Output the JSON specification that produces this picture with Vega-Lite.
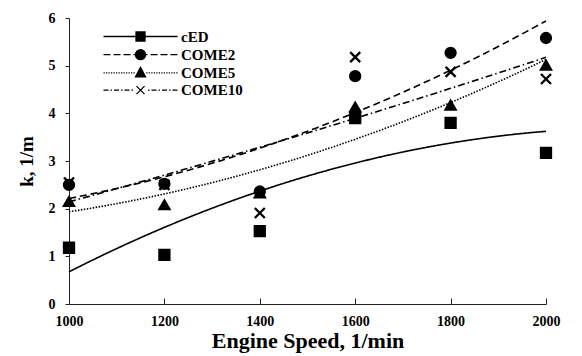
{
  "$schema": "https://vega.github.io/schema/vega-lite/v6.json",
  "width": 477,
  "height": 286,
  "autosize": "none",
  "padding": {"left": 69, "top": 18, "right": 36, "bottom": 52},
  "background": "white",
  "config": {
    "view": {"stroke": null},
    "font": "Liberation Serif",
    "axis": {
      "grid": false,
      "domainColor": "#222",
      "tickColor": "#222",
      "labelFont": "Liberation Serif",
      "labelFontWeight": "bold",
      "labelFontSize": 14,
      "labelColor": "black",
      "titleFont": "Liberation Serif",
      "titleFontWeight": "bold",
      "titleColor": "black"
    },
    "legend": {
      "labelFont": "Liberation Serif",
      "labelFontWeight": "bold",
      "labelFontSize": 15,
      "labelColor": "black"
    }
  },
  "data": {
    "values": [
      {"series": "cED", "speed": 1000, "k": 1.18},
      {"series": "cED", "speed": 1200, "k": 1.03},
      {"series": "cED", "speed": 1400, "k": 1.53},
      {"series": "cED", "speed": 1600, "k": 3.9},
      {"series": "cED", "speed": 1800, "k": 3.8},
      {"series": "cED", "speed": 2000, "k": 3.17},
      {"series": "COME2", "speed": 1000, "k": 2.5},
      {"series": "COME2", "speed": 1200, "k": 2.52},
      {"series": "COME2", "speed": 1400, "k": 2.36},
      {"series": "COME2", "speed": 1600, "k": 4.78},
      {"series": "COME2", "speed": 1800, "k": 5.27},
      {"series": "COME2", "speed": 2000, "k": 5.58},
      {"series": "COME5", "speed": 1000, "k": 2.15},
      {"series": "COME5", "speed": 1200, "k": 2.08},
      {"series": "COME5", "speed": 1400, "k": 2.33},
      {"series": "COME5", "speed": 1600, "k": 4.13},
      {"series": "COME5", "speed": 1800, "k": 4.17},
      {"series": "COME5", "speed": 2000, "k": 5.01},
      {"series": "COME10", "speed": 1000, "k": 2.55},
      {"series": "COME10", "speed": 1200, "k": 2.5},
      {"series": "COME10", "speed": 1400, "k": 1.91},
      {"series": "COME10", "speed": 1600, "k": 5.18},
      {"series": "COME10", "speed": 1800, "k": 4.87},
      {"series": "COME10", "speed": 2000, "k": 4.72}
    ]
  },
  "resolve": {"scale": {"shape": "independent"}},
  "layer": [
    {
      "transform": [
        {"regression": "k", "on": "speed", "groupby": ["series"], "method": "poly", "order": 2, "extent": [1000, 2000]}
      ],
      "mark": {"type": "line", "color": "black", "strokeWidth": 1.6},
      "encoding": {
        "x": {
          "field": "speed", "type": "quantitative",
          "scale": {"domain": [1000, 2000], "nice": false},
          "axis": {
            "values": [1000, 1200, 1400, 1600, 1800, 2000],
            "labelFlush": false,
            "tickSize": 6,
            "labelPadding": 4,
            "title": "Engine Speed, 1/min", "titleFontSize": 22, "titlePadding": 2, "format": "d",
            "encoding": {"ticks": {"y2": {"value": -6}}}
          }
        },
        "y": {
          "field": "k", "type": "quantitative",
          "scale": {"domain": [0, 6], "nice": false},
          "axis": {"values": [0, 1, 2, 3, 4, 5, 6], "tickSize": 4, "labelPadding": 10, "title": "k, 1/m", "titleFontSize": 19, "titlePadding": 12}
        },
        "detail": {"field": "series"},
        "strokeDash": {
          "field": "series", "type": "nominal",
          "scale": {"domain": ["cED", "COME2", "COME5", "COME10"], "range": [[1, 0], [7, 4], [1.5, 1.5], [7, 3, 1.5, 3]]},
          "legend": null
        }
      }
    },
    {
      "mark": {"type": "point", "filled": true, "color": "black", "stroke": "black", "strokeWidth": 2.3, "opacity": 1},
      "encoding": {
        "x": {"field": "speed", "type": "quantitative"},
        "y": {"field": "k", "type": "quantitative"},
        "shape": {
          "field": "series", "type": "nominal",
          "scale": {"domain": ["cED", "COME2", "COME5", "COME10"], "range": ["square", "circle", "triangle-up", "M-1,-1L1,1M1,-1L-1,1"]},
          "legend": null
        },
        "size": {"value": 100}
      }
    },
    {
      "transform": [{"filter": {"field": "k", "lt": -100}}],
      "mark": {"type": "point", "filled": false, "color": "black", "strokeWidth": 1.3, "opacity": 1},
      "encoding": {
        "x": {"field": "speed", "type": "quantitative"},
        "y": {"field": "k", "type": "quantitative"},
        "shape": {
          "field": "series", "type": "nominal",
          "scale": {"domain": ["cED", "COME2", "COME5", "COME10"], "range": [
            "M-7.4,0H7.4M-0.9,-0.9H0.9V0.9H-0.9Z",
            "M-7.4,0H-6M-5.4,0H-4M-3.4,0H-2M-1.4,0H1.4M2,0H3.4M4,0H5.4M6,0H7.4M1,0A1,1,0,1,1,-1,0A1,1,0,1,1,1,0Z",
            "M-7.4,0H-7.15M-6.9,0H-6.65M-6.4,0H-6.15M-5.9,0H-5.65M-5.4,0H-5.15M-4.9,0H-4.65M-4.4,0H-4.15M-3.9,0H-3.65M-3.4,0H-3.15M-2.9,0H-2.65M-2.4,0H-2.15M-1.9,0H-1.65M-1.4,0H-1.15M1.15,0H1.4M1.65,0H1.9M2.15,0H2.4M2.65,0H2.9M3.15,0H3.4M3.65,0H3.9M4.15,0H4.4M4.65,0H4.9M5.15,0H5.4M5.65,0H5.9M6.15,0H6.4M6.65,0H6.9M7.15,0H7.4M0,-1.1L1,0.8L-1,0.8Z",
            "M-7.4,0H-6.4M-6,0H-5.7M-5.3,0H-4.3M-3.9,0H-3.6M-3.2,0H-2.2M-1.8,0H-1.5M1.5,0H1.8M2.2,0H3.2M3.6,0H3.9M4.3,0H5.3M5.7,0H6M6.4,0H7.4M-0.8,-0.8L0.8,0.8M0.8,-0.8L-0.8,0.8"
          ]},
          "legend": {
            "title": null,
            "orient": "none",
            "legendX": 64,
            "legendY": 11,
            "symbolSize": 100,
            "symbolFillColor": "black",
            "symbolStrokeColor": "black",
            "symbolStrokeWidth": 1.3,
            "symbolOpacity": 1,
            "labelOffset": 33,
            "rowPadding": 1.2,
            "padding": 0,
            "encoding": {"symbols": {"fill": {"value": "black"}, "stroke": {"value": "black"}, "strokeWidth": {"value": 1.3}, "opacity": {"value": 1}}}
          }
        },
        "size": {"value": 100}
      }
    }
  ]
}
